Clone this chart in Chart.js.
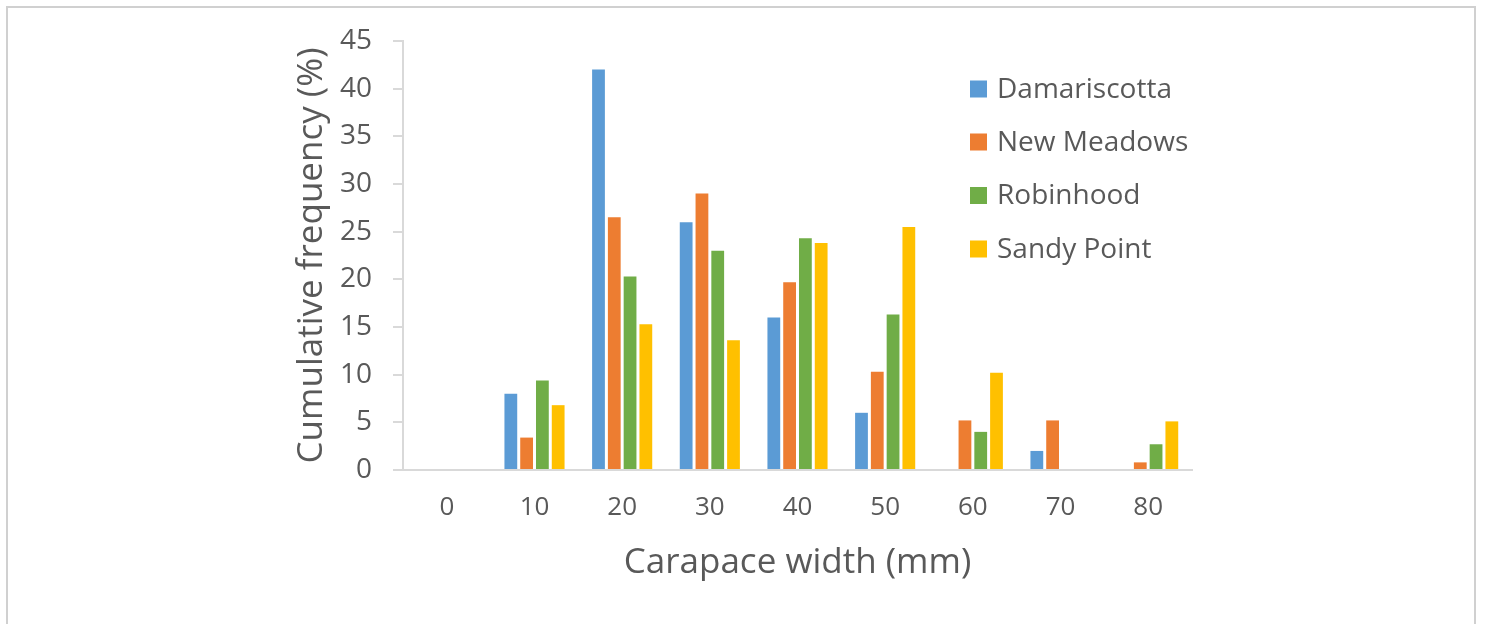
<!DOCTYPE html>
<html>
<head>
<meta charset="utf-8">
<script src="https://cdn.jsdelivr.net/npm/chart.js@4/dist/chart.umd.min.js"></script>
<style>
  html, body { margin: 0; padding: 0; background: #ffffff; overflow: hidden; }
  #frame {
    position: absolute; left: 6px; top: 6px; width: 1470px; height: 700px;
    border: 2px solid #d0d0d0; box-sizing: border-box;
  }
  #wrap { position: absolute; left: 0; top: 0; width: 1488px; height: 624px; }
</style>
</head>
<body>
<div id="frame"></div>
<div id="wrap"><canvas id="chart" width="1488" height="624"></canvas></div>
<script>
// Carapace width classes (mm)
const widthClasses = ['0', '10', '20', '30', '40', '50', '60', '70', '80'];

// Frequency (%) per site and width class
const damariscotta = [0, 8.0, 42.0, 26.0, 16.0, 6.0, 0, 2.0, 0];
const newMeadows   = [0, 3.4, 26.5, 29.0, 19.7, 10.3, 5.2, 5.2, 0.8];
const robinhood    = [0, 9.4, 20.3, 23.0, 24.3, 16.3, 4.0, 0, 2.7];
const sandyPoint   = [0, 6.8, 15.3, 13.6, 23.8, 25.5, 10.2, 0, 5.1];

const siteNames = ['Damariscotta', 'New Meadows', 'Robinhood', 'Sandy Point'];
const siteColors = ['#5B9BD5', '#ED7D31', '#70AD47', '#FFC000'];

const yTicks = [0, 5, 10, 15, 20, 25, 30, 35, 40, 45];

const textColor = '#595959';
const axisColor = '#d9d9d9';
const fontFamily = '"Open Sans", "Liberation Sans", sans-serif';

// Legend drawn in the upper right of the plot, listing each dataset
const sideLegend = {
  id: 'sideLegend',
  afterDraw(chart) {
    const ctx = chart.ctx;
    const x0 = 970, rowY = [89, 142, 195.5, 249], box = 17;
    ctx.save();
    ctx.font = '28px ' + fontFamily;
    ctx.textBaseline = 'middle';
    ctx.textAlign = 'left';
    chart.data.datasets.forEach((ds, i) => {
      const y = rowY[i];
      ctx.fillStyle = ds.backgroundColor;
      ctx.fillRect(x0, y - box / 2, box, box);
      ctx.fillStyle = textColor;
      ctx.fillText(ds.label, x0 + 27, y + 1);
    });
    ctx.restore();
  }
};

const seriesValues = [damariscotta, newMeadows, robinhood, sandyPoint];

new Chart(document.getElementById('chart'), {
  type: 'bar',
  data: {
    labels: widthClasses,
    datasets: seriesValues.map((vals, i) => ({
      label: siteNames[i],
      data: vals,
      backgroundColor: siteColors[i],
      borderWidth: 0,
      categoryPercentage: 0.72,
      barPercentage: 0.81
    }))
  },
  options: {
    responsive: false,
    animation: false,
    devicePixelRatio: 1,
    layout: { padding: { left: 291, right: 296, top: 41, bottom: 40 } },
    plugins: {
      legend: { display: false },
      tooltip: { enabled: false }
    },
    scales: {
      x: {
        grid: { display: false, drawTicks: false },
        border: { display: true, color: axisColor, width: 2 },
        ticks: {
          color: textColor,
          font: { family: fontFamily, size: 26 },
          padding: 22,
          maxRotation: 0
        },
        title: {
          display: true,
          text: 'Carapace width (mm)',
          color: textColor,
          font: { family: fontFamily, size: 35 },
          padding: 0
        },
        afterFit(scale) { scale.height = 624 - 40 - 470; }
      },
      y: {
        min: 0,
        max: 45,
        afterBuildTicks(scale) { scale.ticks = yTicks.map(v => ({ value: v })); },
        grid: {
          display: true,
          drawOnChartArea: false,
          drawTicks: true,
          tickLength: 10,
          color: axisColor,
          lineWidth: 2
        },
        border: { display: true, color: axisColor, width: 2 },
        ticks: {
          color: textColor,
          font: { family: fontFamily, size: 28 },
          padding: 21
        },
        title: {
          display: true,
          text: 'Cumulative frequency (%)',
          color: textColor,
          font: { family: fontFamily, size: 35 },
          padding: 0
        },
        afterFit(scale) { scale.width = 403 - 291; }
      }
    }
  },
  plugins: [sideLegend]
});
</script>
</body>
</html>
